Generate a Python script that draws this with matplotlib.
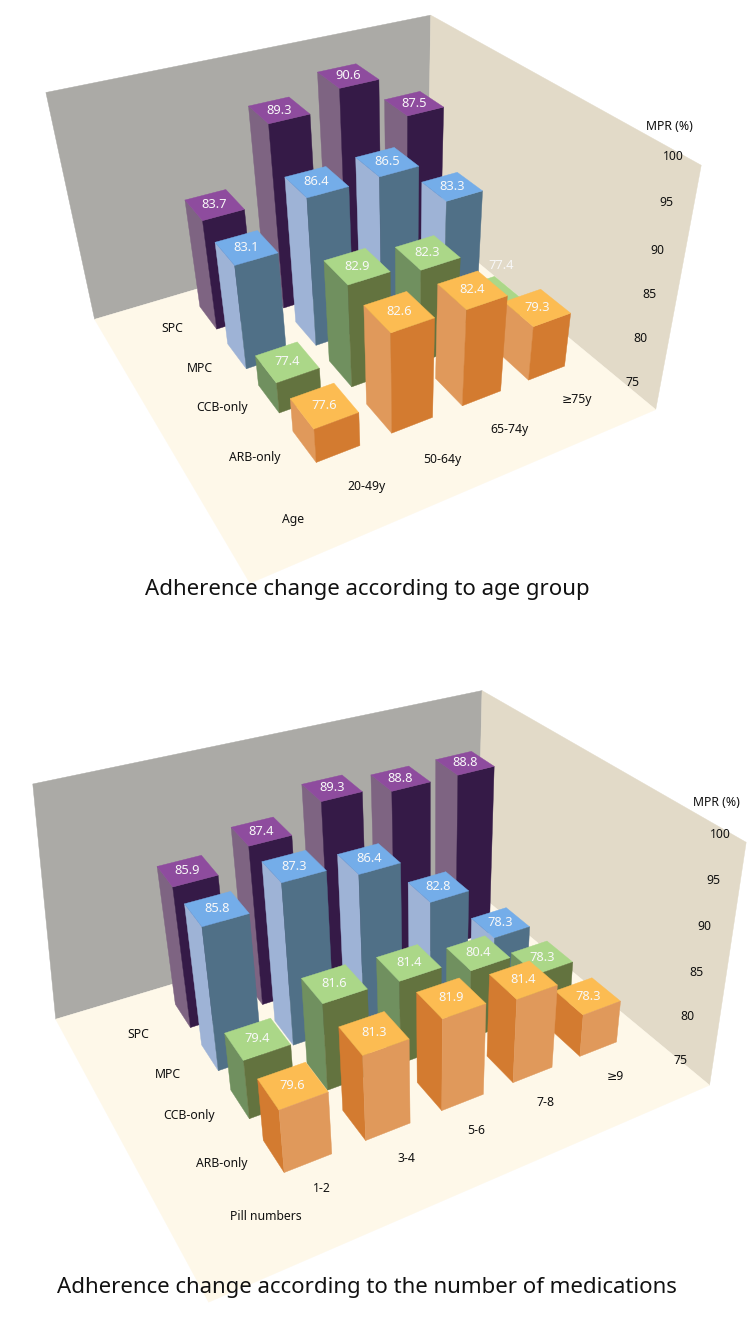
import numpy as np
import matplotlib
matplotlib.use("Agg")
import matplotlib.pyplot as plt
from mpl_toolkits.mplot3d.art3d import Poly3DCollection

plt.rcParams['font.family'] = ['Noto Sans', 'DejaVu Sans']

FIG_W, FIG_H = 749, 1319
Z_BASE, Z_SPAN = 75.0, 25.0

series = ["ARB-only", "CCB-only", "MPC", "SPC"]

age_groups = ["20-49y", "50-64y", "65-74y", "\u226575y"]
age_arb = [77.6, 82.6, 82.4, 79.3]
age_ccb = [77.4, 82.9, 82.3, 77.4]
age_mpc = [83.1, 86.4, 86.5, 83.3]
age_spc = [83.7, 89.3, 90.6, 87.5]

pill_groups = ["1-2", "3-4", "5-6", "7-8", "\u22659"]
pill_arb = [79.6, 81.3, 81.9, 81.4, 78.3]
pill_ccb = [79.4, 81.6, 81.4, 80.4, 78.3]
pill_mpc = [85.8, 87.3, 86.4, 82.8, 78.3]
pill_spc = [85.9, 87.4, 89.3, 88.8, 88.8]

ticks = [100, 95, 90, 85, 80, 75]

# (top, left face, right face)
C_SPC = ("#8E4C9E", "#7E6482", "#351A47")
C_MPC = ("#74ADE9", "#9EB3D6", "#507087")
C_CCB = ("#ABD788", "#70905F", "#63733F")
C_ARB = ("#FCBC52", "#E0995B", "#D37B30")
C_ARB_SWAP = ("#FCBC52", "#D37B30", "#E0995B")
WALL_BACK, WALL_SIDE, FLOOR = "#ABAAA6", "#E2DAC8", "#FEF8E9"

CAM_TOP = np.array([[543.108739, -121.297275, -109.73366, 249.485612],
                    [-87.968945, -148.479894, -478.513426, 582.798221],
                    [0.209624, 0.362409, -0.271882, 1.0]])
LAY_TOP = dict(x0=0.2546, dx=0.1862, y0=0.2318, dy=0.1888, wx=0.1063, wy=0.1164, top=0.6814,
               skew_floor=0.0, skew_top=0.0)

CAM_BOT = np.array([[682.069458, -118.932537, -91.058668, 208.150161],
                    [60.105319, 81.330164, -620.270095, 1301.676867],
                    [0.255503, 0.361787, -0.211577, 1.0]])
LAY_BOT = dict(x0=0.2087, dx=0.1574, y0=0.2308, dy=0.1892, wx=0.0906, wy=0.1109, top=0.6896,
               skew_floor=-0.021, skew_top=0.019)

Z_SCALE = np.array([[1, 0, 0, 0], [0, 1, 0, 0],
                    [0, 0, 1 / Z_SPAN, -Z_BASE / Z_SPAN], [0, 0, 0, 1.0]])
CLEAR = (0, 0, 0, 0)


def install_camera(ax, cam):
    def get_proj():
        inv = ax.transData.inverted().get_matrix()
        flip = np.array([[1, 0, 0], [0, -1, FIG_H], [0, 0, 1.0]])
        a = inv @ flip @ cam @ Z_SCALE
        return np.vstack([a[0], a[1], [0, 0, 0, -1], a[2]])
    ax.get_proj = get_proj


def to_pixels(cam, x, y, z):
    h = cam @ Z_SCALE @ np.array([x, y, z, 1.0])
    return h[0] / h[2], h[1] / h[2]


def t(px, py, s, size=8.8, color="#111111"):
    fig.text(px / FIG_W, 1 - py / FIG_H, s, fontsize=size, color=color, ha='center', va='center')


def chart(rect, cam, lay, rows, colors, groups, label_shift):
    ax = fig.add_axes(rect, projection='3d', computed_zorder=False)
    ax.patch.set_visible(False)
    ax.set_axis_off()
    install_camera(ax, cam)
    zt = Z_BASE + lay['top'] * Z_SPAN
    sf, st = lay['skew_floor'], lay['skew_top']
    planes = [([(sf, 1, Z_BASE), (1, 1, Z_BASE), (1, 1, zt), (st, 1, zt)], WALL_BACK),
              ([(1, 0, Z_BASE), (1, 1, Z_BASE), (1, 1, zt), (1, 0, zt)], WALL_SIDE),
              ([(0, 0, Z_BASE), (1, 0, Z_BASE), (1, 1, Z_BASE), (sf, 1, Z_BASE)], FLOOR)]
    for k, (verts, c) in enumerate(planes):
        pc = Poly3DCollection([verts], facecolors=c, edgecolors=c, linewidths=0.3, zorder=1 + k * 0.01)
        ax.add_collection3d(pc)
        pc.set_clip_on(False)
    order = 2
    for j in range(len(rows) - 1, -1, -1):
        for i in range(len(groups) - 1, -1, -1):
            v = rows[j][i]
            top, left, right = colors[j]
            # faces: -z, +z, -y, +y, -x, +x
            faces = [CLEAR, top, right, CLEAR, left, CLEAR]
            x = lay['x0'] + i * lay['dx']
            y = lay['y0'] + j * lay['dy']
            col = ax.bar3d(x, y, Z_BASE, lay['wx'], lay['wy'], v - Z_BASE, color=faces,
                           edgecolor=faces, linewidth=0.3, shade=False, zorder=order)
            col.set_clip_on(False)
            order += 1
            sx, sz = label_shift.get((i, j), (0, 0))
            px, py = to_pixels(cam, x + lay['wx'] / 2 + sx, y + lay['wy'] / 2, v + sz)
            t(px, py, f"{v:.1f}", size=9.3, color="#F8F8F8")
    return ax


fig = plt.figure(figsize=(FIG_W / 100, FIG_H / 100), dpi=100, facecolor="white")

chart([0, 0.5, 1, 0.5], CAM_TOP, LAY_TOP, [age_arb, age_ccb, age_mpc, age_spc],
      [C_ARB, C_CCB, C_MPC, C_SPC], age_groups, {(3, 1): (0.03, 2.0)})
chart([0, 0, 1, 0.5], CAM_BOT, LAY_BOT, [pill_arb, pill_ccb, pill_mpc, pill_spc],
      [C_ARB_SWAP, C_CCB, C_MPC, C_SPC], pill_groups, {})

# top chart texts
t(669, 127, "MPR (%)")
for s, (px, py) in zip(ticks, [(673, 157), (666, 202), (657, 250), (649, 294), (640, 338), (633, 382)]):
    t(px, py, str(s))
for s, (px, py) in zip(series, [(255, 458), (222, 408), (200, 368), (172, 328)]):
    t(px, py, s)
for s, (px, py) in zip(age_groups, [(366, 486), (442, 459), (510, 429), (577, 399)]):
    t(px, py, s)
t(293, 519, "Age")
t(367, 590, "Adherence change according to age group", size=16)

# bottom chart texts
t(716, 802, "MPR (%)")
for s, (px, py) in zip(ticks, [(720, 835), (713, 880), (704, 927), (696, 972), (687, 1016), (681, 1060)]):
    t(px, py, str(s))
for s, (px, py) in zip(series, [(222, 1164), (189, 1115), (168, 1075), (138, 1035)]):
    t(px, py, s)
for s, (px, py) in zip(pill_groups, [(322, 1188), (406, 1158), (476, 1131), (546, 1102), (615, 1076)]):
    t(px, py, s)
t(266, 1217, "Pill numbers")
t(367, 1287, "Adherence change according to the number of medications", size=16)

fig.savefig("out.png", dpi=100)
